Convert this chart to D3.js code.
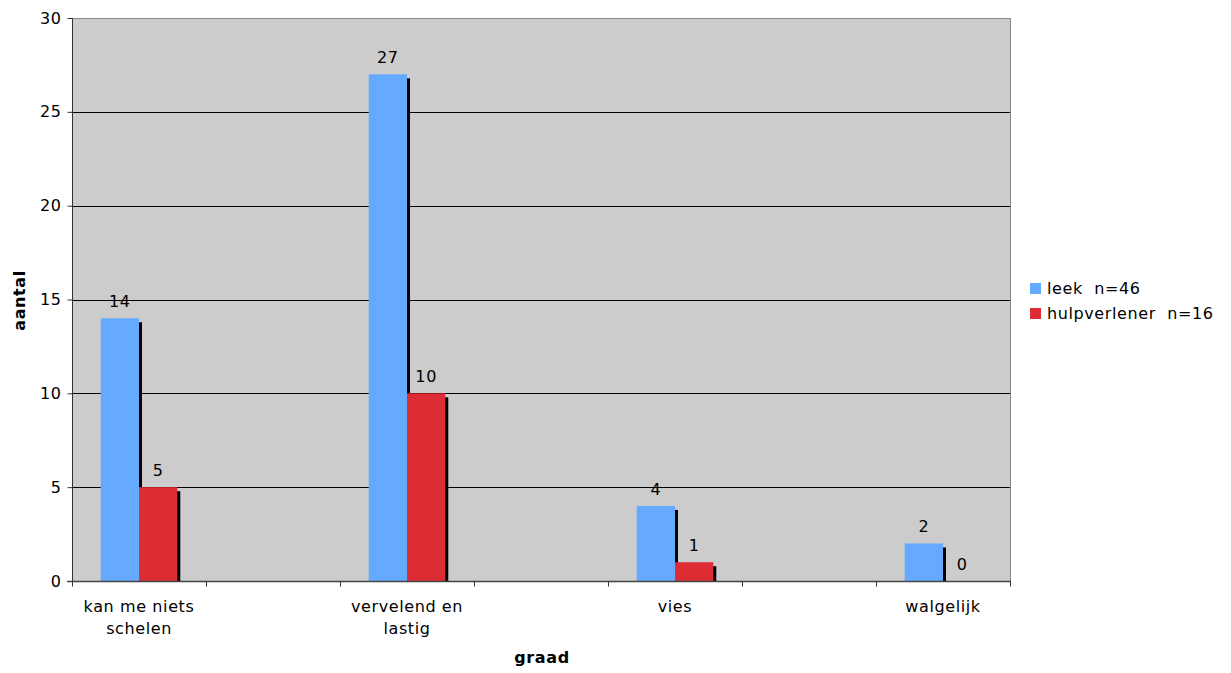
<!DOCTYPE html>
<html><head><meta charset="utf-8">
<script src="https://cdn.jsdelivr.net/npm/d3@7"></script>
<style>
html,body{margin:0;padding:0;background:#fff;}
text{font-family:"DejaVu Sans",Verdana,sans-serif;letter-spacing:0.6px;}
</style></head>
<body><svg id="c" width="1231" height="673"></svg>
<script>
const categories = ["kan me niets schelen", "vervelend en lastig", "vies", "walgelijk"];
const categoryLines = [["kan me niets", "schelen"], ["vervelend en", "lastig"], ["vies"], ["walgelijk"]];
const seriesNames = ["leek  n=46", "hulpverlener  n=16"];
const leek = [14, 27, 4, 2];
const hulpverlener = [5, 10, 1, 0];
const yTicks = [0, 5, 10, 15, 20, 25, 30];
const colors = ["#66aaff", "#dd2c33"];

const svg = d3.select("#c");
const L = 72, R = 1010, T = 18, B = 581;
const FS = 16;

// slots: each category followed by an empty slot (as in the original chart)
const slots = [];
categories.forEach((c, i) => { slots.push("c" + i); if (i < categories.length - 1) slots.push("g" + i); });
const x = d3.scaleBand().domain(slots).range([L, R]).padding(0);
const y = d3.scaleLinear().domain([0, 30]).range([B, T]);
const bw = x.bandwidth() / 3.5;
const sub = d3.scaleBand().domain([0, 1]).range([0.75 * bw, 2.75 * bw]).padding(0);

// plot background
svg.append("rect").attr("x", L).attr("y", T).attr("width", R - L).attr("height", B - T).attr("fill", "#cccccc");

// gridlines
svg.append("g").selectAll("line").data(yTicks.filter(d => d > 0 && d < 30)).join("line")
  .attr("x1", L).attr("x2", R).attr("y1", d => Math.round(y(d)) + 0.5).attr("y2", d => Math.round(y(d)) + 0.5)
  .attr("stroke", "#000").attr("stroke-width", 1);

// border top & right
svg.append("path").attr("d", `M${L},${T + 0.5}H${R + 0.5}V${B}`).attr("fill", "none").attr("stroke", "#888").attr("stroke-width", 1);

const data = [];
categories.forEach((c, i) => {
  [leek, hulpverlener].forEach((s, k) => data.push({ slot: "c" + i, k, v: s[i] }));
});

// shadows
svg.append("g").selectAll("rect").data(data.filter(d => d.v > 0)).join("rect")
  .attr("x", d => x(d.slot) + sub(d.k) + 3)
  .attr("y", d => y(d.v) + 4)
  .attr("width", sub.bandwidth())
  .attr("height", d => B - y(d.v) - 4)
  .attr("fill", "#000");

// bars
svg.append("g").selectAll("rect").data(data.filter(d => d.v > 0)).join("rect")
  .attr("x", d => x(d.slot) + sub(d.k))
  .attr("y", d => y(d.v))
  .attr("width", sub.bandwidth())
  .attr("height", d => B - y(d.v))
  .attr("fill", d => colors[d.k]);

// value labels
svg.append("g").selectAll("text").data(data).join("text")
  .attr("x", d => x(d.slot) + sub(d.k) + sub.bandwidth() / 2)
  .attr("y", d => y(d.v) - 11)
  .attr("text-anchor", "middle").attr("font-size", FS).attr("fill", "#000")
  .text(d => d.v);

// y axis
const ya = svg.append("g").attr("transform", `translate(${L + 0.5},0)`)
  .call(d3.axisLeft(y).tickValues(yTicks).tickSize(5).tickPadding(6).tickFormat(d3.format("d")));
ya.select(".domain").attr("stroke", "#333").attr("d", `M0,${T}V${B + 0.5}`);
ya.selectAll(".tick line").attr("stroke", "#333");
ya.selectAll(".tick text").attr("font-size", FS).attr("font-family", "DejaVu Sans").attr("fill", "#000");

// x axis
const xa = svg.append("g").attr("transform", `translate(0,${B + 0.5})`);
xa.append("line").attr("x1", L - 5).attr("x2", R + 1).attr("stroke", "#444").attr("stroke-width", 1.5);
const bounds = slots.map(s => x(s)).concat([x(slots[slots.length - 1]) + x.bandwidth()]);
xa.selectAll("line.t").data(bounds).join("line").attr("class", "t")
  .attr("x1", d => Math.round(d) + 0.5).attr("x2", d => Math.round(d) + 0.5).attr("y1", 0).attr("y2", 5)
  .attr("stroke", "#333");

// category labels
categories.forEach((c, i) => {
  const t = svg.append("text").attr("text-anchor", "middle").attr("font-size", FS).attr("fill", "#000")
    .attr("x", x("c" + i) + x.bandwidth() / 2).attr("y", 612);
  categoryLines[i].forEach((ln, j) => t.append("tspan").attr("x", x("c" + i) + x.bandwidth() / 2).attr("dy", j ? 22 : 0).text(ln));
});

// axis titles
svg.append("text").attr("x", (L + R) / 2 + 1).attr("y", 663).attr("text-anchor", "middle")
  .attr("font-size", FS).attr("font-weight", "bold").text("graad");
svg.append("text").attr("transform", `translate(25,${(T + B) / 2 + 1}) rotate(-90)`).attr("text-anchor", "middle")
  .attr("font-size", FS).attr("font-weight", "bold").text("aantal");

// legend
const lg = svg.append("g").attr("transform", "translate(1030,283)");
seriesNames.forEach((n, i) => {
  lg.append("rect").attr("x", 0).attr("y", i * 25).attr("width", 11).attr("height", 11).attr("fill", colors[i]);
  lg.append("text").attr("x", 17).attr("y", i * 25 + 11).attr("font-size", FS).attr("fill", "#000")
    .attr("xml:space", "preserve").style("white-space", "pre").text(n);
});
</script></body></html>
